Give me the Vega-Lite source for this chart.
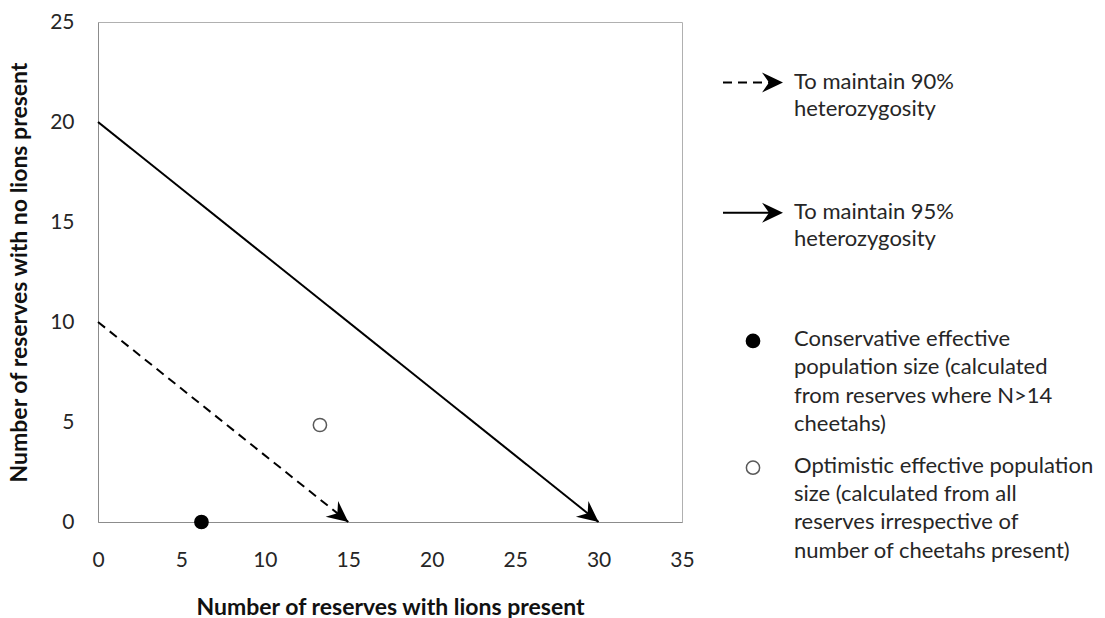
{
  "$schema": "https://vega.github.io/schema/vega-lite/v6.json",
  "background": "white",
  "padding": {"left": 8, "top": 10, "right": 0, "bottom": 0},
  "config": {
    "font": "Lato",
    "view": {"stroke": "#b0b0b0", "strokeWidth": 1},
    "axis": {
      "grid": false,
      "ticks": false,
      "tickSize": 0,
      "labelFlush": false,
      "domainColor": "#8c8c8c",
      "labelFont": "Lato",
      "labelFontSize": 21,
      "labelColor": "#262626",
      "titleFont": "Lato",
      "titleFontSize": 23,
      "titleFontWeight": "bold",
      "titleColor": "#111111"
    },
    "concat": {"spacing": 5}
  },
  "datasets": {
    "lines": [
      {"target": "90%", "lions": 0, "nolions": 10},
      {"target": "90%", "lions": 15, "nolions": 0},
      {"target": "95%", "lions": 0, "nolions": 20},
      {"target": "95%", "lions": 30, "nolions": 0}
    ],
    "tips": [
      {"target": "90%", "lions": 15, "nolions": 0},
      {"target": "95%", "lions": 30, "nolions": 0}
    ],
    "points": [
      {"estimate": "Conservative", "lions": 6.2, "nolions": 0},
      {"estimate": "Optimistic", "lions": 13.3, "nolions": 4.85}
    ],
    "legendLines": [
      {"target": "90%", "start": 0.575, "end": 1.75, "tip": 2.075, "row": 2.14},
      {"target": "95%", "start": 0.575, "end": 1.75, "tip": 2.075, "row": 6.74}
    ],
    "legendPoints": [
      {"estimate": "Conservative", "col": 1.325, "row": 11.27},
      {"estimate": "Optimistic", "col": 1.325, "row": 15.75}
    ],
    "legendText": [
      {"col": 2.35, "row": 2.37, "label": "To maintain 90%"},
      {"col": 2.35, "row": 3.32, "label": "heterozygosity"},
      {"col": 2.35, "row": 6.96, "label": "To maintain 95%"},
      {"col": 2.35, "row": 7.92, "label": "heterozygosity"},
      {"col": 2.35, "row": 11.45, "label": "Conservative effective"},
      {"col": 2.35, "row": 12.44, "label": "population size (calculated"},
      {"col": 2.35, "row": 13.46, "label": "from reserves where N>14"},
      {"col": 2.35, "row": 14.45, "label": "cheetahs)"},
      {"col": 2.35, "row": 15.94, "label": "Optimistic effective population"},
      {"col": 2.35, "row": 16.93, "label": "size (calculated from all"},
      {"col": 2.35, "row": 17.92, "label": "reserves irrespective of"},
      {"col": 2.35, "row": 18.94, "label": "number of cheetahs present)"}
    ]
  },
  "hconcat": [
    {
      "width": 584,
      "height": 500,
      "encoding": {
        "x": {
          "field": "lions",
          "type": "quantitative",
          "scale": {"domain": [0, 35], "nice": false},
          "axis": {
            "values": [0, 5, 10, 15, 20, 25, 30, 35],
            "title": "Number of reserves with lions present",
            "labelPadding": 27,
            "titlePadding": 26
          }
        },
        "y": {
          "field": "nolions",
          "type": "quantitative",
          "scale": {"domain": [0, 25], "nice": false},
          "axis": {
            "values": [0, 5, 10, 15, 20, 25],
            "title": "Number  of reserves with no lions present",
            "labelPadding": 24,
            "titlePadding": 18
          }
        }
      },
      "layer": [
        {
          "data": {"name": "lines"},
          "mark": {"type": "line", "color": "black", "strokeWidth": 2},
          "encoding": {
            "strokeDash": {
              "field": "target",
              "type": "nominal",
              "scale": {"domain": ["90%", "95%"], "range": [[9, 6], [1, 0]]},
              "legend": null
            }
          }
        },
        {
          "data": {"name": "tips"},
          "mark": {
            "type": "point",
            "shape": "M0,0L1,2.1L0,1.4L-1,2.1Z",
            "size": 400,
            "filled": true,
            "color": "black",
            "opacity": 1,
            "angle": 128.6
          }
        },
        {
          "data": {"name": "points"},
          "mark": {"type": "point", "filled": true, "size": 175, "strokeWidth": 1.5, "opacity": 1},
          "encoding": {
            "fill": {
              "field": "estimate",
              "type": "nominal",
              "scale": {"domain": ["Conservative", "Optimistic"], "range": ["#000000", "#ffffff"]},
              "legend": null
            },
            "stroke": {
              "field": "estimate",
              "type": "nominal",
              "scale": {"domain": ["Conservative", "Optimistic"], "range": ["#000000", "#595959"]},
              "legend": null
            }
          }
        }
      ]
    },
    {
      "width": 400,
      "height": 566,
      "view": {"stroke": null},
      "layer": [
        {
          "data": {"name": "legendLines"},
          "mark": {"type": "rule", "color": "black", "strokeWidth": 2},
          "encoding": {
            "x": {"field": "start", "type": "quantitative", "scale": {"domain": [0, 10]}, "axis": null},
            "x2": {"field": "end"},
            "y": {"field": "row", "type": "quantitative", "scale": {"domain": [0, 20], "reverse": true}, "axis": null},
            "strokeDash": {
              "field": "target",
              "type": "nominal",
              "scale": {"domain": ["90%", "95%"], "range": [[9, 6], [1, 0]]},
              "legend": null
            }
          }
        },
        {
          "data": {"name": "legendLines"},
          "mark": {
            "type": "point",
            "shape": "M0,0L1,2.1L0,1.4L-1,2.1Z",
            "size": 400,
            "filled": true,
            "color": "black",
            "opacity": 1,
            "angle": 90
          },
          "encoding": {
            "x": {"field": "tip", "type": "quantitative"},
            "y": {"field": "row", "type": "quantitative"}
          }
        },
        {
          "data": {"name": "legendPoints"},
          "mark": {"type": "point", "filled": true, "size": 175, "strokeWidth": 1.5, "opacity": 1},
          "encoding": {
            "x": {"field": "col", "type": "quantitative"},
            "y": {"field": "row", "type": "quantitative"},
            "fill": {
              "field": "estimate",
              "type": "nominal",
              "scale": {"domain": ["Conservative", "Optimistic"], "range": ["#000000", "#ffffff"]},
              "legend": null
            },
            "stroke": {
              "field": "estimate",
              "type": "nominal",
              "scale": {"domain": ["Conservative", "Optimistic"], "range": ["#000000", "#595959"]},
              "legend": null
            }
          }
        },
        {
          "data": {"name": "legendText"},
          "mark": {"type": "text", "align": "left", "baseline": "alphabetic", "font": "Lato", "fontSize": 22, "color": "#262626"},
          "encoding": {
            "x": {"field": "col", "type": "quantitative"},
            "y": {"field": "row", "type": "quantitative"},
            "text": {"field": "label"}
          }
        }
      ]
    }
  ]
}
